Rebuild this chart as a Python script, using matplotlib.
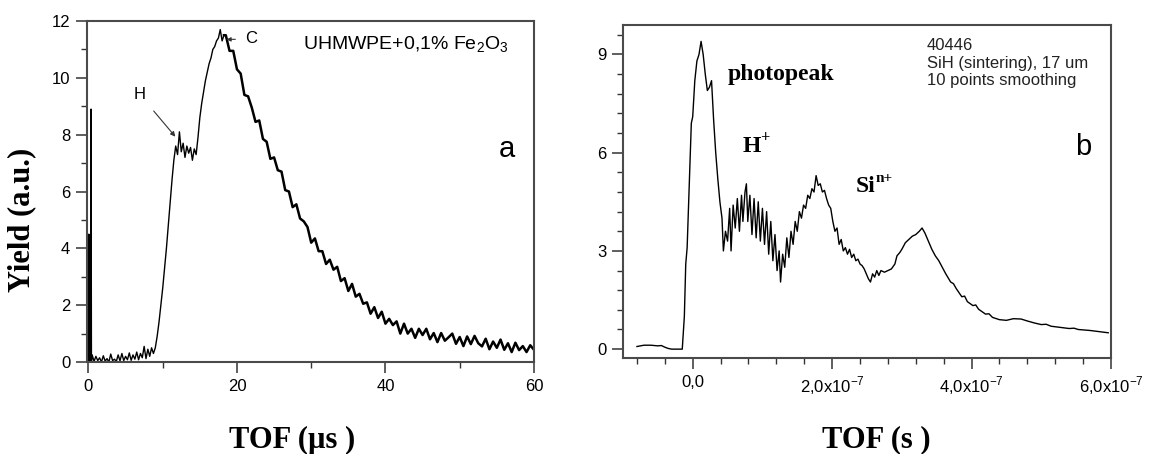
import numpy as np
import matplotlib
matplotlib.use('Agg')
import matplotlib.pyplot as plt

plt.rcParams['font.family'] = ['Liberation Sans', 'DejaVu Sans']
plt.rcParams['mathtext.fontset'] = 'custom'
plt.rcParams['mathtext.rm'] = 'Liberation Sans'
plt.rcParams['mathtext.bf'] = 'Liberation Serif:bold'

# ---- panel a : UHMWPE + Fe2O3, TOF in microseconds ----
# spike at t = 0
tof_a_spike = [0.0, 0.05, 0.1, 0.3, 0.35, 0.4]
yield_a_spike = [0.0, 4.5, 0.0, 0.0, 8.9, 0.0]

# noisy baseline 0.5 .. 8.75 us
tof_a_base = [0.5, 0.75, 1.0, 1.25, 1.5, 1.75, 2.0, 2.25, 2.5, 2.75, 3.0, 3.25,
              3.5, 3.75, 4.0, 4.25, 4.5, 4.75, 5.0, 5.25, 5.5, 5.75, 6.0, 6.25,
              6.5, 6.75, 7.0, 7.25, 7.5, 7.75, 8.0, 8.25, 8.5, 8.75]
yield_a_base = [0.25, 0.02, 0.2, 0.05, 0.15, 0.0, 0.22, 0.03, 0.12, 0.0, 0.28, 0.05,
                0.1, 0.02, 0.25, 0.04, 0.3, 0.05, 0.2, 0.08, 0.32, 0.06, 0.25, 0.1,
                0.35, 0.08, 0.3, 0.15, 0.55, 0.12, 0.45, 0.2, 0.5, 0.3]

# rise, H plateau, C peak
tof_a_rise = [9.0, 9.25, 9.5, 9.75, 10.0, 10.25, 10.5, 10.75, 11.0, 11.25, 11.5,
              11.75, 12.0, 12.25, 12.5, 12.75, 13.0, 13.25, 13.5, 13.75, 14.0,
              14.25, 14.5, 14.75, 15.0, 15.25, 15.5, 15.75, 16.0, 16.25, 16.5,
              16.75, 17.0, 17.25, 17.5, 17.75, 18.0, 18.25]
yield_a_rise = [0.5, 0.9, 1.4, 2.0, 2.6, 3.3, 4.0, 4.8, 5.6, 6.4, 7.1,
                7.6, 7.3, 8.1, 7.4, 7.7, 7.2, 7.6, 7.35, 7.55, 7.1,
                7.5, 7.3, 7.9, 8.6, 9.1, 9.5, 9.9, 10.2, 10.5, 10.7,
                11.0, 11.1, 11.3, 11.4, 11.7, 11.3, 11.5]

# noisy decay 18.5 .. 60 us
tof_a_decay = [18.5, 19.0, 19.5, 20.0, 20.5, 21.0, 21.5, 22.0, 22.5, 23.0, 23.5,
               24.0, 24.5, 25.0, 25.5, 26.0, 26.5, 27.0, 27.5, 28.0, 28.5, 29.0,
               29.5, 30.0, 30.5, 31.0, 31.5, 32.0, 32.5, 33.0, 33.5, 34.0, 34.5,
               35.0, 35.5, 36.0, 36.5, 37.0, 37.5, 38.0, 38.5, 39.0, 39.5, 40.0,
               40.5, 41.0, 41.5, 42.0, 42.5, 43.0, 43.5, 44.0, 44.5, 45.0, 45.5,
               46.0, 46.5, 47.0, 47.5, 48.0, 48.5, 49.0, 49.5, 50.0, 50.5, 51.0,
               51.5, 52.0, 52.5, 53.0, 53.5, 54.0, 54.5, 55.0, 55.5, 56.0, 56.5,
               57.0, 57.5, 58.0, 58.5, 59.0, 59.5, 60.0]
yield_a_decay = [11.5, 10.95, 10.95, 10.3, 10.15, 9.4, 9.35, 8.95, 8.45, 8.5, 7.85,
                 7.75, 7.15, 7.2, 6.75, 6.7, 6.05, 6.0, 5.45, 5.55, 5.05, 4.95,
                 4.75, 4.2, 4.35, 3.9, 3.9, 3.45, 3.6, 3.25, 3.35, 2.85, 2.95,
                 2.5, 2.75, 2.3, 2.4, 2.05, 2.1, 1.7, 1.93, 1.55, 1.77, 1.35,
                 1.52, 1.3, 1.43, 1.0, 1.35, 1.0, 1.17, 0.85, 1.17, 0.95, 1.17,
                 0.8, 1.02, 0.7, 1.02, 0.75, 0.87, 1.0, 0.64, 0.88, 0.56, 0.9,
                 0.63, 0.92, 0.66, 0.55, 0.82, 0.45, 0.72, 0.5, 0.79, 0.43, 0.66,
                 0.35, 0.68, 0.42, 0.56, 0.35, 0.59, 0.43]

# ---- panel b : SiH, TOF in units of 1e-7 s ----
tof_b = [-0.8, -0.7, -0.6, -0.5, -0.45, -0.4, -0.35, -0.3, -0.2, -0.15, -0.12,
         -0.1, -0.08, -0.05, -0.02, 0.0, 0.03, 0.06, 0.09, 0.12, 0.15, 0.18,
         0.21, 0.24, 0.27, 0.30, 0.33, 0.36, 0.39, 0.42, 0.44, 0.47, 0.50,
         0.53, 0.55, 0.58, 0.61, 0.64, 0.67, 0.70, 0.72, 0.75, 0.77, 0.79,
         0.82, 0.85, 0.88, 0.91, 0.94, 0.97, 1.00, 1.03, 1.06, 1.09, 1.12,
         1.15, 1.18, 1.21, 1.24, 1.26, 1.29, 1.32, 1.35, 1.38, 1.41, 1.44,
         1.47, 1.50, 1.53, 1.56, 1.59, 1.62, 1.65, 1.68, 1.71, 1.74, 1.77,
         1.80, 1.83, 1.86, 1.89, 1.92, 1.95, 1.98, 2.01, 2.04, 2.07, 2.10,
         2.13, 2.16, 2.19, 2.22, 2.25, 2.28, 2.31, 2.34, 2.37, 2.40, 2.43,
         2.46, 2.49, 2.52, 2.55, 2.58, 2.61, 2.64, 2.67, 2.70, 2.75, 2.80,
         2.85, 2.90, 2.93, 2.97, 3.00, 3.05, 3.10, 3.15, 3.20, 3.25, 3.29,
         3.33, 3.38, 3.43, 3.48, 3.53, 3.58, 3.63, 3.70, 3.74, 3.78, 3.86,
         3.90, 3.94, 4.02, 4.06, 4.10, 4.20, 4.25, 4.30, 4.40, 4.50, 4.60,
         4.71, 4.80, 4.90, 5.00, 5.07, 5.14, 5.25, 5.40, 5.47, 5.53, 5.70,
         5.85, 5.96]
yield_b = [0.08, 0.12, 0.12, 0.1, 0.11, 0.06, 0.02, 0.0, 0.0, 0.0, 1.0,
           2.6, 3.1, 5.0, 6.9, 7.1, 8.2, 8.8, 9.0, 9.4, 9.0, 8.4,
           7.9, 8.0, 8.2, 7.0, 6.0, 5.2, 4.5, 4.0, 3.0, 3.6, 3.3,
           4.3, 3.0, 4.4, 3.7, 4.6, 3.6, 4.7, 3.9, 4.8, 5.05, 3.9,
           4.7, 3.5, 4.6, 3.4, 4.5, 3.3, 4.3, 3.2, 4.2, 2.9, 3.9,
           2.7, 3.5, 2.4, 3.0, 2.05, 2.9, 2.5, 3.4, 2.8, 3.6, 3.2,
           3.9, 3.6, 4.2, 4.0, 4.4, 4.3, 4.7, 4.6, 4.9, 4.8, 5.3,
           5.0, 5.05, 4.8, 4.85, 4.6, 4.4, 4.3, 3.9, 3.6, 3.7, 3.2,
           3.35, 3.0, 3.1, 2.9, 3.05, 2.8, 2.9, 2.7, 2.75, 2.6, 2.55,
           2.45, 2.3, 2.15, 2.05, 2.3, 2.2, 2.4, 2.25, 2.4, 2.35, 2.4,
           2.45, 2.6, 2.85, 2.95, 3.05, 3.25, 3.35, 3.45, 3.5, 3.6, 3.7,
           3.55, 3.3, 3.05, 2.85, 2.7, 2.5, 2.3, 2.05, 2.0, 1.85, 1.6,
           1.62, 1.45, 1.33, 1.35, 1.22, 1.07, 1.08, 0.97, 0.9, 0.88, 0.93,
           0.92, 0.86, 0.8, 0.75, 0.76, 0.7, 0.67, 0.63, 0.64, 0.6, 0.57,
           0.53, 0.5]

xticks_b = [0, 2, 4, 6]
xticklabels_b = ['0,0', r'2,0x10$^{\mathrm{-7}}$', r'4,0x10$^{\mathrm{-7}}$', r'6,0x10$^{\mathrm{-7}}$']

tof_a = tof_a_spike + tof_a_base + tof_a_rise
yield_a = yield_a_spike + yield_a_base + yield_a_rise

fig = plt.figure(figsize=(11.52, 4.54), dpi=100)
axa = fig.add_axes([0.0755, 0.2026, 0.388, 0.7511])
axb = fig.add_axes([0.5408, 0.2115, 0.4236, 0.7334])

for ax in (axa, axb):
    for s in ax.spines.values():
        s.set_color('#4a4a4a')
        s.set_linewidth(1.5)
    ax.tick_params(which='major', direction='out', length=8, width=1.1,
                   color='#333333', labelsize=12, pad=4)
    ax.tick_params(which='minor', direction='out', length=4, width=1.0,
                   color='#333333')

# panel a
axa.plot(tof_a, yield_a, color='black', lw=1.0)
axa.plot([tof_a_rise[-1]] + tof_a_decay, [yield_a_rise[-1]] + yield_a_decay,
         color='black', lw=1.8)
axa.set_xlim(-0.2, 60)
axa.set_ylim(0, 12)
axa.set_xticks([0, 20, 40, 60])
axa.set_xticks([10, 30, 50], minor=True)
axa.set_yticks([0, 2, 4, 6, 8, 10, 12])
axa.set_yticks([1, 3, 5, 7, 9, 11], minor=True)
axa.text(28.9, 11.16, r'UHMWPE+0,1% Fe$_{2}$O$_{3}$', fontsize=14, va='center')
axa.text(56.3, 7.5, 'a', fontsize=21, ha='center', va='center')
axa.annotate('H', xy=(11.7, 7.93), xytext=(6.9, 9.42), fontsize=12,
             ha='center', va='center',
             arrowprops=dict(arrowstyle='-|>', color='#333333', lw=0.8,
                             mutation_scale=7, shrinkA=6, shrinkB=0))
axa.annotate('C', xy=(18.6, 11.35), xytext=(21.9, 11.37), fontsize=12,
             ha='center', va='center',
             arrowprops=dict(arrowstyle='-|>', color='#333333', lw=0.8,
                             mutation_scale=6, shrinkA=5, shrinkB=0))

# panel b
axb.plot(tof_b, yield_b, color='black', lw=1.0)
axb.set_xlim(-1.0, 6.0)
axb.set_ylim(-0.27, 9.9)
axb.set_xticks(xticks_b)
axb.set_xticklabels(xticklabels_b)
axb.set_xticks([-0.8, -0.4, 0.4, 0.8, 1.2, 1.6, 2.4, 2.8, 3.2, 3.6,
                4.4, 4.8, 5.2, 5.6], minor=True)
axb.set_yticks([0, 3, 6, 9])
axb.set_yticks([0.6, 1.2, 1.8, 2.4, 3.6, 4.2, 4.8, 5.4, 6.6, 7.2, 7.8,
                8.4, 9.6], minor=True)
axb.text(0.5, 8.22, 'photopeak', family='Liberation Serif', fontweight='bold',
         fontsize=17, va='baseline')
axb.text(0.7, 5.98, r'$\mathbf{H}^{\mathbf{+}}$', fontsize=17, va='baseline')
axb.text(2.34, 4.8, 'Si', family='Liberation Serif', fontweight='bold',
         fontsize=17, va='baseline')
axb.annotate('n+', xy=(2.34, 4.8), xytext=(14.5, 7), textcoords='offset points',
             family='Liberation Serif', fontweight='bold', fontsize=11,
             va='baseline')
axb.text(3.36, 9.5, '40446\nSiH (sintering), 17 um\n10 points smoothing',
         fontsize=12, va='top', linespacing=1.2, color='#222222')
axb.text(5.6, 6.16, 'b', fontsize=21, ha='center', va='center')

fig.text(22 / 1152, 1 - 220 / 454, 'Yield (a.u.)', rotation=90,
         family='Liberation Serif', fontweight='bold', fontsize=22,
         ha='center', va='center')
fig.text(292 / 1152, 1 - 440 / 454, 'TOF (\u00b5s )', family='Liberation Serif',
         fontweight='bold', fontsize=22, ha='center', va='center')
fig.text(876 / 1152, 1 - 440 / 454, 'TOF (s )', family='Liberation Serif',
         fontweight='bold', fontsize=22, ha='center', va='center')

fig.savefig('out.png', dpi=100)
